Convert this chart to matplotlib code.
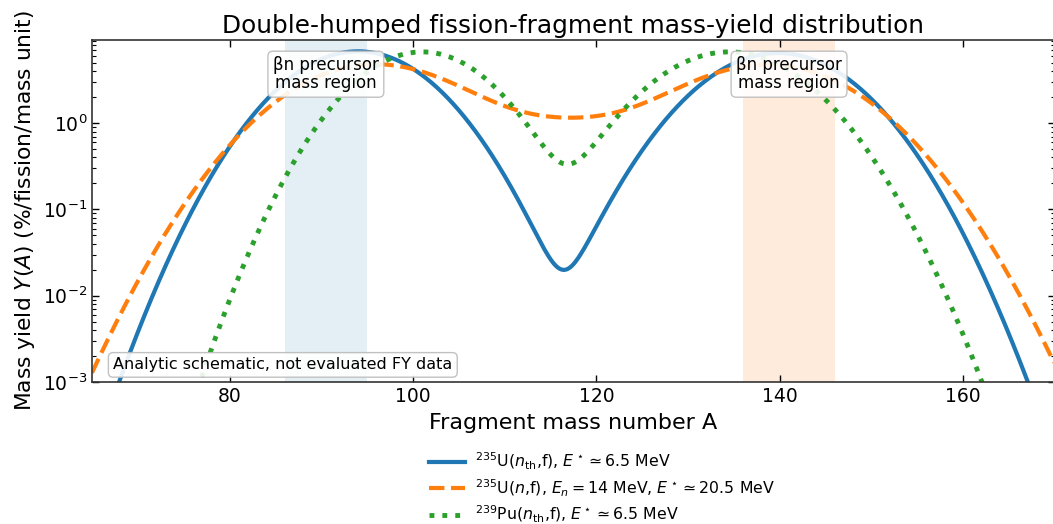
import numpy as np
import matplotlib
matplotlib.use("Agg")
import matplotlib.pyplot as plt
import matplotlib.transforms as mtransforms

# three-gaussian schematic: light hump, heavy hump, symmetric component
systems = [r"$^{235}$U($n_{\rm th}$,f), $E^\star \simeq 6.5$ MeV",
           r"$^{235}$U($n$,f), $E_n = 14$ MeV, $E^\star \simeq 20.5$ MeV",
           r"$^{239}$Pu($n_{\rm th}$,f), $E^\star \simeq 6.5$ MeV"]
light_center = [94.0, 95.5, 101.0]
light_sigma = [6.2, 7.5, 5.77]
light_height = [6.8, 4.6, 6.7]
heavy_center = [139.8, 139.0, 134.5]
heavy_sigma = [6.5, 7.75, 6.56]
heavy_height = [6.5, 4.6, 6.7]
sym_center = [116.5, 116.5, 116.5]
sym_sigma = [10.0, 12.0, 10.0]
sym_height = [0.0, 1.0, 0.0]

colors = ['#1f77b4', '#ff7f0e', '#2ca02c']
styles = ['-', '--', ':']
widths = [3.0, 3.0, 3.5]

precursor_bands = [(86, 95), (136, 146)]
band_colors = ['#1f77b4', '#ff7f0e']
band_alpha = [0.12, 0.15]

A = np.arange(64, 171.01, 0.1)

def gauss(a, c, s, h):
    return h * np.exp(-(a - c)**2 / (2 * s**2))

plt.rcParams['font.family'] = 'DejaVu Sans'
fig = plt.figure(figsize=(10.53, 5.24), dpi=100)
ax = fig.add_axes([92/1053, 1 - 382/524, (1055 - 92)/1053, (382 - 40)/524])

for (lo, hi), c, al in zip(precursor_bands, band_colors, band_alpha):
    ax.axvspan(lo, hi, color=c, alpha=al, lw=0)

for i in range(3):
    y = (gauss(A, light_center[i], light_sigma[i], light_height[i])
         + gauss(A, heavy_center[i], heavy_sigma[i], heavy_height[i])
         + gauss(A, sym_center[i], sym_sigma[i], sym_height[i]))
    ax.plot(A, y, styles[i], color=colors[i], lw=widths[i], label=systems[i])

ax.set_yscale('log')
ax.set_xlim(65, 170)
ax.set_ylim(1e-3, 9.2)
ax.set_xticks([80, 100, 120, 140, 160])
ax.tick_params(which='both', direction='in', top=True, right=True, labelsize=13.5)
ax.tick_params(which='major', length=5, width=1)
ax.tick_params(which='minor', length=3, width=0.8)
for sp in ax.spines.values():
    sp.set_linewidth(1.2)
    sp.set_color('#333333')

ax.set_xlabel("Fragment mass number A", fontsize=16, labelpad=5)
ax.set_ylabel(r"Mass yield $Y(A)$ (%/fission/mass unit)", fontsize=15.7)
ax.set_title("Double-humped fission-fragment mass-yield distribution", fontsize=17.8, pad=5)

trans = mtransforms.blended_transform_factory(ax.transData, ax.transAxes)
box = dict(boxstyle='round,pad=0.3', fc='white', ec='#bbbbbb', alpha=0.9)
for lo, hi in precursor_bands:
    ax.text((lo + hi) / 2, 0.9, "βn precursor\nmass region", transform=trans,
            ha='center', va='center', fontsize=12, bbox=box, linespacing=1.0)
ax.text(0.022, 0.05, "Analytic schematic, not evaluated FY data", transform=ax.transAxes,
        ha='left', va='center', fontsize=11.5, bbox=box)

fig.legend(loc='center', bbox_to_anchor=(602/1053, 1 - 488/524), frameon=False,
           fontsize=11.3, handlelength=2.3, handletextpad=0.65, labelspacing=0.34,
           borderaxespad=0)

fig.savefig("out.png", dpi=100)
